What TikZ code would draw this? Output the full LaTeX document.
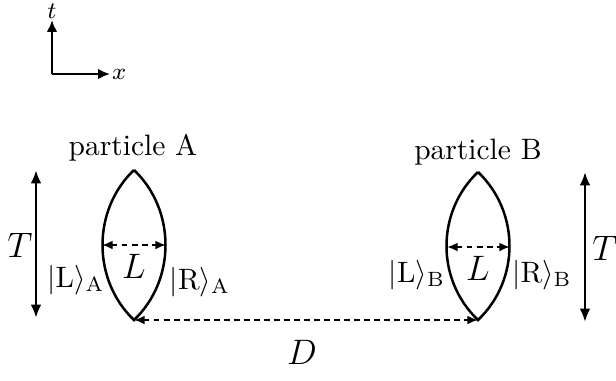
\documentclass[tikz,border=0pt]{standalone}
\usepackage{amsmath}
\usepackage{tikz}
\usetikzlibrary{arrows.meta}

\tikzset{
  axis/.style={line width=0.8pt,-{Latex[length=4pt,width=3.6pt]}},
  lens/.style={line width=0.85pt},
  span/.style={line width=0.85pt,{Latex[length=4.5pt,width=3.6pt]}-{Latex[length=4.5pt,width=3.6pt]}},
  gap/.style={line width=0.75pt,dash pattern=on 2pt off 1.4pt,{Latex[length=3.6pt,width=3pt]}-{Latex[length=3.6pt,width=3pt]}},
}

\begin{document}
\begin{tikzpicture}[x=0.339pt,y=-0.339pt]
  \useasboundingbox (0,0) rectangle (616,381);
  % axes
  \coordinate (o) at (52,74);
  \coordinate (tend) at (52,20);
  \coordinate (xend) at (110,74);
  \draw[axis] (o) -- (tend);
  \draw[axis] (o) -- (xend);
  \node[above,inner sep=0.3pt] (tlab) at (tend) {\footnotesize $t$};
  \node[right,inner sep=0.5pt] (xlab) at (xend) {\footnotesize $x$};
  % particle A
  \coordinate (At) at (134,170);
  \coordinate (Ab) at (134,320);
  \coordinate (Al) at (102,245);
  \coordinate (Ar) at (166,245);
  \draw[lens] (At) .. controls +(-42,40) and +(-42,-40) .. (Ab)
    .. controls +(42,-40) and +(42,40) .. (At);
  \draw[gap] (Al) -- (Ar);
  \node (pA) at (133,148) {particle A};
  \node (LA) at (134,266) {\large $L$};
  \node (kLA) at (76,280) {$|\mathrm{L}\rangle_{\mathrm{A}}$};
  \node (kRA) at (200,282) {$|\mathrm{R}\rangle_{\mathrm{A}}$};
  \coordinate (TAt) at (36,170);
  \coordinate (TAb) at (36,318);
  \draw[span] (TAt) -- (TAb);
  \node (TA) at (20,245) {\large $T$};
  % particle B
  \coordinate (Bt) at (478,172);
  \coordinate (Bb) at (478,320);
  \coordinate (Bl) at (447,247);
  \coordinate (Br) at (510,247);
  \draw[lens] (Bt) .. controls +(-42,40) and +(-42,-40) .. (Bb)
    .. controls +(42,-40) and +(42,40) .. (Bt);
  \draw[gap] (Bl) -- (Br);
  \node (pB) at (478,152) {particle B};
  \node (LB) at (478,268) {\large $L$};
  \node (kLB) at (417,275) {$|\mathrm{L}\rangle_{\mathrm{B}}$};
  \node (kRB) at (542,275) {$|\mathrm{R}\rangle_{\mathrm{B}}$};
  \coordinate (TBt) at (585,172);
  \coordinate (TBb) at (585,322);
  \draw[span] (TBt) -- (TBb);
  \node (TB) at (605,248) {\large $T$};
  % distance
  \draw[gap] (Ab) -- (Bb);
  \node (D) at (302,352) {\large $D$};
\end{tikzpicture}
\end{document}
